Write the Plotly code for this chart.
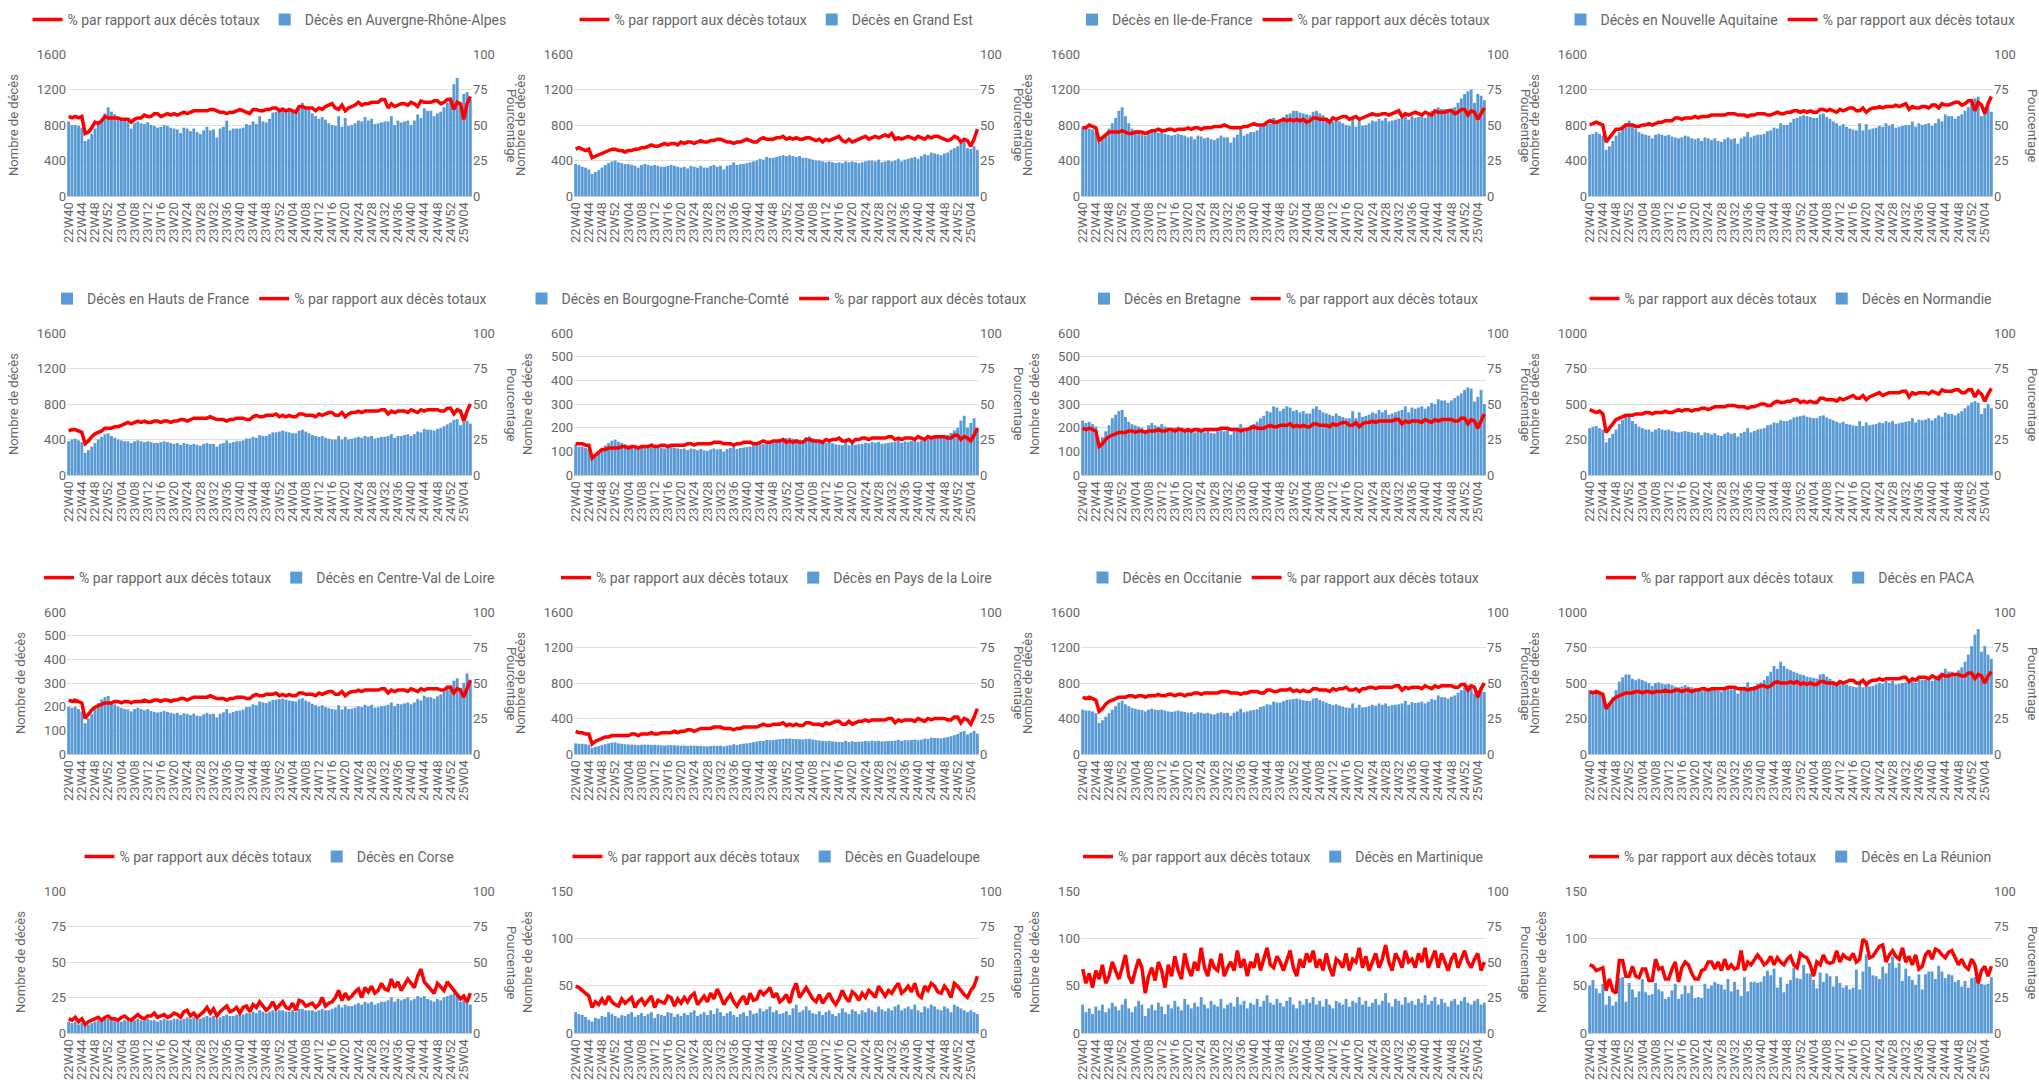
import plotly.graph_objects as go


def vals(s):
    return [int(v) for v in s.split()]


weeks = ([f"22W{w:02d}" for w in range(40, 53)] + [f"23W{w:02d}" for w in range(1, 53)]
         + [f"24W{w:02d}" for w in range(1, 53)] + [f"25W{w:02d}" for w in range(1, 7)])
tick_weeks = weeks[::4]

ara_bar = vals("""840 800 800 790 770 620 640 700 760 800 850 930 1000 950 920 880 860 850 840 760
820 840 820 810 830 800 790 770 780 800 790 770 760 750 710 770 760 730 760 720
700 740 780 740 750 660 760 780 850 740 760 760 760 770 810 800 840 810 900 840
830 870 940 950 990 1000 980 970 960 960 1020 1050 1000 980 930 900 870 890 860 820
800 790 900 780 880 790 800 820 850 840 890 850 870 810 820 830 840 840 900 800
850 830 840 850 800 850 920 880 990 960 960 900 930 950 1000 1050 1110 1260 1330 1000
1150 1170 1090""")
ara_pct = vals("""56 55 56 55 56 44 45 48 52 51 53 56 55 55 55 55 54 54 54 52
54 55 55 57 56 56 58 58 56 57 58 57 58 57 58 59 58 59 60 60
60 60 60 61 61 60 59 59 58 59 59 60 61 60 59 58 61 61 60 60
61 61 62 62 60 61 60 61 60 59 63 63 62 62 62 60 62 61 63 64
65 62 61 64 60 62 63 64 66 64 65 65 66 66 66 68 68 62 65 63
64 65 65 64 66 65 63 67 66 66 66 67 67 65 66 68 68 61 66 65
54 65 70""")

ge_bar = vals("""360 350 330 320 300 250 270 290 320 350 370 390 400 380 370 360 360 350 340 320
350 360 350 340 350 340 330 330 340 350 340 330 320 330 310 340 330 320 340 320
320 340 350 330 340 300 340 350 380 350 360 360 370 380 390 400 420 410 440 430
430 440 450 460 450 460 450 440 450 430 430 420 410 400 400 390 380 390 380 370
380 370 390 380 390 380 370 380 390 400 400 390 410 380 390 400 390 400 420 390
410 420 430 440 420 450 470 460 490 480 470 460 480 490 520 540 560 600 620 540
530 560 520""")
ge_pct = vals("""33 34 33 32 33 27 28 29 30 31 32 33 33 32 32 31 32 32 33 33
34 34 35 36 35 35 36 37 36 37 37 36 38 37 38 38 37 38 39 38
38 39 39 40 40 39 38 38 37 38 38 39 40 39 38 38 40 41 40 40
40 41 41 42 40 41 40 41 40 40 41 41 40 39 40 38 40 39 40 41
42 39 38 40 38 39 40 41 42 40 41 42 41 42 43 42 44 40 41 40
41 42 41 40 42 41 40 42 41 42 42 41 40 39 40 42 41 38 40 39
35 40 47""")

idf_bar = vals("""780 760 760 750 720 600 640 700 760 820 880 960 1000 900 820 760 740 720 700 680
720 740 720 710 730 700 690 680 690 700 690 680 660 670 640 680 670 650 660 640
630 650 680 660 660 600 660 690 750 680 700 720 720 740 780 790 820 810 880 860
860 890 920 930 960 960 940 930 920 910 950 960 930 910 880 860 840 860 840 820
800 790 870 780 850 790 800 820 850 840 870 850 880 840 850 860 870 880 920 860
900 880 890 900 880 910 960 940 1000 980 980 960 990 1000 1050 1100 1150 1180 1200 1050
1150 1130 1080""")
idf_pct = vals("""48 48 50 49 48 39 41 43 45 45 45 45 46 45 44 44 45 45 45 44
45 46 46 47 46 46 47 47 46 47 47 47 48 47 48 48 47 48 48 48
49 49 49 50 49 48 48 48 48 49 49 50 51 50 50 50 52 53 52 52
53 54 53 54 53 54 53 54 52 53 55 55 54 54 54 52 55 54 55 56
56 54 55 56 54 55 56 57 58 57 57 58 58 57 58 59 60 56 58 57
58 59 58 57 59 58 57 60 59 59 59 60 60 58 59 61 61 57 60 59
54 58 62""")

naq_bar = vals("""690 700 720 700 680 520 560 620 680 720 760 820 850 800 760 720 700 690 680 650
690 700 690 680 690 670 660 650 660 680 670 650 640 650 620 660 650 630 650 620
610 640 660 640 650 590 650 670 720 660 680 690 690 700 730 740 770 760 820 800
800 830 870 880 900 910 900 890 880 880 920 930 890 870 840 820 790 810 780 760
750 740 820 740 810 750 760 770 790 780 820 790 810 770 780 790 800 800 840 780
820 800 810 820 790 820 870 840 920 900 900 870 900 920 960 1000 1040 1100 1120 900
1000 1020 950""")
naq_pct = vals("""50 51 52 51 50 38 41 45 47 47 48 50 50 50 49 49 50 50 51 50
51 52 52 53 53 53 55 55 54 55 55 55 56 55 56 56 56 57 57 57
57 57 58 58 58 57 57 57 56 57 57 58 58 58 57 57 58 59 58 58
59 59 60 60 59 60 59 60 59 59 61 61 60 61 60 59 61 60 61 62
62 60 60 62 59 61 62 62 63 62 63 63 63 64 63 64 65 61 63 62
62 63 63 62 64 64 62 65 64 64 65 66 66 64 65 67 67 60 66 64
58 65 70""")

hdf_bar = vals("""380 400 410 390 370 250 280 320 360 400 430 460 470 440 420 400 390 380 380 360
380 390 380 370 380 370 360 360 370 380 370 360 350 360 340 360 350 340 350 340
330 350 360 350 350 320 350 360 390 360 370 380 380 390 410 410 430 420 450 440
440 460 480 480 490 500 490 480 470 470 500 510 490 470 450 440 430 440 420 410
400 400 440 400 430 400 410 420 430 420 440 430 440 410 420 430 430 440 460 420
440 440 450 460 440 460 490 480 520 510 510 500 520 530 550 570 590 620 630 560
600 610 580""")
hdf_pct = vals("""31 32 32 31 30 22 24 27 29 30 31 33 33 33 34 34 35 36 37 36
37 38 37 38 37 37 38 38 37 38 38 37 38 38 39 39 38 39 40 40
40 40 40 41 40 39 39 39 38 39 39 40 40 40 39 39 41 42 41 41
42 42 42 43 41 42 41 42 41 41 43 43 42 42 42 41 43 42 43 44
44 42 42 44 41 43 44 44 45 44 45 45 45 45 45 46 46 43 45 44
45 45 45 44 46 45 44 46 45 46 46 46 46 45 45 47 47 43 46 45
38 45 50""")

bfc_bar = vals("""130 120 120 115 110 70 80 95 110 125 135 145 150 140 135 130 125 120 120 115
120 125 120 118 122 118 115 112 115 118 115 112 110 112 105 112 110 105 110 104
102 108 112 108 110 98 110 114 122 110 114 116 118 120 126 128 134 130 142 138
138 144 150 152 156 158 154 152 150 148 160 164 156 150 144 140 136 140 134 130
128 126 140 126 136 128 130 132 136 134 140 136 140 132 134 136 138 140 146 136
142 140 144 146 140 146 156 152 166 162 162 158 164 170 178 188 200 230 250 200
220 240 200""")
bfc_pct = vals("""22 22 22 21 21 12 14 16 18 18 19 19 19 19 20 20 19 20 20 19
20 20 20 21 20 20 21 21 20 21 21 21 21 21 22 22 21 22 22 22
22 22 23 23 23 22 22 22 21 22 22 23 23 23 22 22 23 24 23 23
24 24 24 25 23 24 23 24 23 23 25 25 24 24 24 23 25 24 25 25
26 24 24 25 23 25 25 26 26 25 26 26 26 26 26 27 27 25 26 25
26 26 26 25 27 26 25 27 26 27 27 27 27 26 26 28 28 25 27 26
24 28 33""")

bre_bar = vals("""230 220 225 215 205 140 160 185 210 240 255 270 275 245 225 215 210 205 200 190
210 220 210 205 215 205 200 195 200 205 200 195 190 195 180 195 190 180 190 178
175 185 195 185 190 170 190 200 215 190 200 210 215 225 240 250 270 265 290 285
270 280 290 285 270 275 265 270 260 260 280 290 275 265 260 255 250 260 250 245
240 240 270 240 265 245 250 255 265 260 275 265 275 255 260 265 270 275 290 265
285 280 285 290 280 290 305 300 320 315 315 305 315 325 335 345 360 370 365 310
330 360 300""")
bre_pct = vals("""33 32 33 32 31 20 22 25 27 28 29 30 30 30 31 31 30 31 31 30
31 31 31 32 31 31 32 32 31 32 32 31 32 31 32 32 31 32 32 32
32 32 33 33 33 32 32 32 31 32 32 33 34 33 33 33 34 35 34 34
35 35 35 36 34 35 34 35 34 34 36 36 35 35 35 34 36 35 36 37
37 35 35 37 34 36 37 37 38 37 38 38 38 38 38 39 39 36 38 37
38 38 38 37 39 38 37 39 38 39 39 39 39 38 38 40 40 36 39 38
33 38 43""")

nor_bar = vals("""330 340 345 330 320 230 260 290 320 360 390 410 420 380 360 340 330 320 320 305
320 330 320 315 320 310 305 300 305 310 305 300 295 300 280 300 295 285 295 280
275 290 300 290 295 270 295 305 330 300 310 320 325 330 350 355 370 365 385 380
380 390 405 410 415 420 410 405 400 400 415 420 405 395 385 375 365 375 360 355
350 345 380 345 370 350 355 360 370 365 380 370 380 360 365 370 375 380 400 370
390 385 390 400 385 400 420 410 440 430 430 420 435 450 470 490 510 520 510 430
470 500 470""")
nor_pct = vals("""46 45 44 45 43 30 33 37 39 40 41 42 42 42 43 43 43 44 44 43
44 44 44 45 44 44 45 46 45 46 46 45 46 46 47 47 46 47 48 48
48 48 49 49 49 48 48 48 47 48 48 49 50 50 49 49 51 52 51 51
52 52 53 53 51 52 51 52 51 51 54 54 53 53 53 52 54 53 54 55
56 54 54 56 53 55 56 57 58 56 57 58 58 58 58 59 59 55 58 57
58 58 58 57 59 58 57 60 59 59 59 60 60 58 58 60 60 55 59 57
52 57 61""")

cvl_bar = vals("""200 195 200 190 180 130 150 170 190 215 230 240 245 220 210 200 195 190 188 180
190 195 190 185 190 182 178 175 178 182 178 174 170 174 165 172 170 164 170 162
160 168 174 168 170 155 170 176 190 172 178 182 184 188 198 200 210 206 222 218
215 222 228 230 232 234 230 226 224 222 232 236 226 220 212 206 200 206 198 194
190 188 206 188 200 190 192 196 202 198 208 202 208 196 198 202 204 208 218 202
212 210 214 218 210 218 232 226 246 240 240 234 244 252 262 276 290 310 320 280
300 340 310""")
cvl_pct = vals("""38 37 38 37 36 25 28 31 33 34 35 36 36 36 37 37 36 37 37 36
37 37 37 38 37 37 38 38 37 38 38 37 38 38 39 39 38 39 40 40
40 40 40 41 40 39 39 39 38 39 39 40 40 40 39 39 41 42 41 41
42 42 42 43 41 42 41 42 41 41 43 43 42 42 42 41 43 42 43 44
44 42 42 44 41 43 44 44 45 44 45 45 45 45 45 46 46 43 45 44
45 45 45 44 46 45 44 46 45 46 46 46 46 45 45 47 47 43 46 45
40 46 52""")

pdl_bar = vals("""120 115 115 110 105 70 80 90 100 110 120 130 130 120 115 110 108 105 104 100
104 106 104 102 104 100 98 96 98 100 98 96 94 96 90 95 94 90 94 88
86 90 94 92 94 86 94 98 110 100 110 116 120 126 134 140 148 146 158 156
156 162 168 170 172 174 170 168 166 164 170 172 164 158 152 148 144 148 142 138
136 134 148 134 144 136 138 140 146 142 150 146 150 142 144 146 148 150 160 148
156 154 158 162 156 162 174 170 184 180 180 176 184 190 200 212 226 250 260 220
240 260 230""")
pdl_pct = vals("""16 15 15 14 14 7 9 10 11 12 12 13 13 13 13 13 13 14 14 13
14 14 14 15 14 14 15 15 15 15 16 15 16 16 17 17 16 17 18 18
18 18 19 19 19 18 18 18 17 18 18 19 19 19 19 19 20 21 20 20
21 21 21 22 20 21 20 21 20 20 22 22 21 21 21 20 22 21 22 23
23 21 21 23 21 22 23 23 24 23 24 24 24 24 24 25 25 22 24 23
24 24 24 23 25 24 23 25 24 25 25 25 25 24 24 26 26 22 25 24
21 26 32""")

occ_bar = vals("""500 490 490 480 460 350 380 420 460 500 540 580 600 560 540 520 510 500 495 480
500 510 500 495 500 490 480 475 480 490 480 475 465 470 450 470 465 455 465 450
445 460 470 460 465 430 465 480 510 470 480 490 495 505 530 540 560 555 590 580
580 595 610 615 620 625 615 605 600 598 625 630 610 595 580 565 550 560 545 535
525 520 570 520 555 525 530 540 555 545 570 555 570 540 550 555 560 570 600 555
585 575 580 590 570 590 620 610 660 640 640 625 645 660 690 720 750 780 790 680
720 760 700""")
occ_pct = vals("""40 39 40 39 38 30 32 35 37 38 39 40 40 40 41 41 40 41 41 40
41 41 41 42 41 41 42 42 41 42 42 41 42 42 43 43 42 43 43 43
43 43 44 44 44 43 43 43 42 43 43 44 44 44 43 43 45 45 44 44
45 45 45 46 44 45 44 45 44 44 46 46 45 45 45 44 46 45 46 46
47 45 45 46 44 46 46 47 47 46 47 47 47 47 47 48 48 45 47 46
47 47 47 46 48 47 46 48 47 48 48 48 48 47 47 49 49 45 48 47
40 46 50""")

paca_bar = vals("""450 440 445 430 410 330 360 400 450 510 540 560 560 530 520 530 520 510 500 480
500 505 495 490 495 485 475 470 475 485 475 470 460 465 445 465 460 450 460 445
440 455 465 455 460 425 460 475 505 470 480 495 505 520 550 580 620 600 650 620
600 590 580 570 560 555 545 540 535 530 560 565 545 530 515 505 495 500 490 480
475 470 510 470 500 475 480 490 500 495 515 500 515 490 495 500 505 515 540 500
525 520 525 535 515 535 560 550 600 580 580 570 590 610 650 700 760 840 880 720
760 700 670""")
paca_pct = vals("""44 43 44 43 42 32 35 38 40 41 42 43 43 43 44 44 43 44 44 43
44 44 44 45 44 44 45 45 44 45 45 44 45 45 46 46 45 46 46 46
46 46 47 47 47 46 46 46 45 46 46 47 48 48 47 48 50 51 50 50
50 51 50 51 49 50 49 50 49 49 51 51 50 50 50 49 51 50 51 52
52 50 50 52 49 51 52 52 53 52 53 53 53 53 53 54 54 51 53 52
54 54 54 53 55 54 53 56 55 55 56 56 56 55 55 57 57 53 56 55
50 55 58""")

cor_bar = vals("""8 7 8 6 7 5 6 7 8 9 9 10 10 9 9 8 8 9 9 8
9 10 9 9 10 9 9 8 9 10 9 9 10 10 9 10 11 10 11 10
10 11 12 11 12 10 11 12 13 12 12 13 13 13 14 14 15 14 16 15
14 15 16 15 16 16 15 15 16 15 17 17 16 16 16 15 16 17 16 16
17 18 20 18 20 19 19 20 21 20 22 21 22 20 21 22 22 23 25 22
24 23 24 25 23 24 26 25 26 24 23 22 24 23 25 26 27 28 26 22
24 22 20""")
cor_pct = vals("""10 9 11 8 10 6 8 9 10 11 9 11 12 10 10 9 11 12 10 9
11 13 11 10 12 12 14 11 12 13 11 12 14 13 11 15 16 12 14 11
13 15 18 14 17 12 15 17 19 15 16 18 14 18 19 15 20 18 22 19
16 18 22 17 20 22 18 17 21 16 23 22 19 20 21 18 20 25 19 21
22 25 30 23 28 24 26 29 31 25 32 29 33 28 30 35 31 30 38 32
36 30 34 38 35 32 40 45 36 33 30 28 35 32 30 36 33 30 28 24
26 22 28""")

gua_bar = vals("""22 20 19 17 14 12 16 15 18 17 22 20 18 16 19 18 20 22 17 19
21 18 20 22 16 20 19 18 22 21 17 20 18 21 19 22 24 18 20 22
19 24 20 26 22 18 21 23 19 17 20 22 18 24 20 21 26 23 25 28
22 24 20 21 23 19 26 30 22 24 28 24 21 20 23 19 22 24 20 18
21 26 22 20 25 23 20 24 22 26 24 22 28 25 23 26 24 28 30 24
26 28 25 30 24 22 28 26 30 28 25 24 28 26 22 30 28 26 24 22
24 22 20""")
gua_pct = vals("""33 32 30 28 26 18 22 20 24 20 26 22 20 19 24 21 23 25 18 22
24 20 23 26 18 23 22 21 26 25 19 24 21 25 22 26 28 20 23 26
22 28 24 31 26 20 24 27 22 19 23 26 20 28 23 24 30 27 29 32
25 28 22 24 27 21 30 35 25 28 32 28 24 22 27 21 25 28 23 20
24 30 25 22 29 27 23 28 25 30 28 25 33 29 26 30 28 32 35 28
30 33 29 35 27 25 33 30 35 33 29 28 33 30 25 35 33 30 27 25
30 33 40""")

mar_bar = vals("""30 22 26 20 28 24 30 22 26 32 28 24 30 36 26 22 28 34 30 18
26 30 24 32 28 20 30 26 34 28 24 36 30 26 32 28 38 30 26 34
30 28 36 26 30 32 28 38 30 34 26 32 30 36 28 34 40 32 30 36
32 28 34 38 30 26 34 30 36 32 38 30 34 28 36 30 26 34 32 30
36 28 34 32 38 30 34 28 32 36 30 34 42 32 28 36 34 30 38 32
34 30 36 32 40 30 34 38 30 36 32 28 34 36 30 34 38 32 30 34
36 30 32""")
mar_pct = vals("""45 35 42 32 44 38 48 35 40 50 44 38 46 55 40 35 44 52 46 28
40 46 37 50 44 32 48 40 54 44 38 56 46 40 50 44 60 46 40 52
46 44 56 40 46 50 44 58 46 52 40 50 46 56 44 52 60 48 46 54
50 44 52 58 46 40 52 46 56 50 58 46 52 44 56 46 40 52 50 46
56 44 52 50 60 46 54 44 50 56 46 52 62 50 44 56 52 46 58 50
52 46 56 50 60 46 52 58 46 56 50 44 52 56 46 52 58 50 46 52
56 44 50""")

reu_bar = vals("""50 56 47 42 52 30 39 29 33 58 59 33 53 46 38 44 57 43 40 41
53 46 44 36 38 45 52 36 41 50 42 50 37 38 37 52 47 50 54 52
51 46 57 44 54 46 39 59 44 54 54 53 54 60 66 61 68 48 59 43
52 56 69 58 57 72 63 63 56 47 64 54 63 60 49 60 53 48 50 46
48 67 46 65 83 70 61 60 57 70 63 74 81 69 74 55 68 60 56 51
62 46 62 65 65 57 71 65 58 62 61 54 56 49 55 48 58 59 59 52
51 52 59""")
reu_pct = vals("""48 47 44 45 46 30 38 30 28 51 51 40 40 47 40 39 45 45 37 37
52 45 46 38 38 45 50 36 46 50 48 42 38 38 44 45 50 50 45 50
44 52 45 48 45 46 58 44 50 48 52 55 52 48 50 54 48 53 50 48
52 54 48 46 56 54 53 48 40 50 48 55 50 49 50 58 50 55 53 52
56 50 52 66 64 53 54 58 61 62 50 55 58 54 52 60 50 54 48 55
45 47 55 58 52 59 58 55 53 57 58 53 48 52 47 45 52 48 35 44
47 40 47""")

# name, bars, percentages, left axis max, left dtick, line listed first in legend
panels = [
    ("Auvergne-Rhône-Alpes", ara_bar, ara_pct, 1600, 400, True),
    ("Grand Est", ge_bar, ge_pct, 1600, 400, True),
    ("Ile-de-France", idf_bar, idf_pct, 1600, 400, False),
    ("Nouvelle Aquitaine", naq_bar, naq_pct, 1600, 400, False),
    ("Hauts de France", hdf_bar, hdf_pct, 1600, 400, False),
    ("Bourgogne-Franche-Comté", bfc_bar, bfc_pct, 600, 100, False),
    ("Bretagne", bre_bar, bre_pct, 600, 100, False),
    ("Normandie", nor_bar, nor_pct, 1000, 250, True),
    ("Centre-Val de Loire", cvl_bar, cvl_pct, 600, 100, True),
    ("Pays de la Loire", pdl_bar, pdl_pct, 1600, 400, True),
    ("Occitanie", occ_bar, occ_pct, 1600, 400, False),
    ("PACA", paca_bar, paca_pct, 1000, 250, True),
    ("Corse", cor_bar, cor_pct, 100, 25, True),
    ("Guadeloupe", gua_bar, gua_pct, 150, 50, True),
    ("Martinique", mar_bar, mar_pct, 150, 50, True),
    ("La Réunion", reu_bar, reu_pct, 150, 50, True),
]

W, H = 2039, 1085
grey = "#666666"
font = dict(family="Roboto, Arial, sans-serif", size=13, color=grey)
fig = go.Figure()
layout = dict(width=W, height=H, margin=dict(l=0, r=0, t=0, b=0, autoexpand=False),
              plot_bgcolor="white", paper_bgcolor="white", font=font,
              bargap=0.12, annotations=[])

for i, (name, bars, pct, ymax, dtick, line_first) in enumerate(panels):
    r, c = divmod(i, 4)
    n = i + 1
    xa = "x" if n == 1 else f"x{n}"
    yl = "y" if n == 1 else f"y{2 * n - 1}"
    yr = f"y{2 * n}"
    lg = "legend" if n == 1 else f"legend{n}"
    x0 = (67 + 507 * c) / W
    x1 = x0 + 405 / W
    top = 54 + 279 * r
    bot = top + 142
    yd = [1 - bot / H, 1 - top / H]

    bar = go.Bar(x=weeks, y=bars, name=f"Décès en {name}", xaxis=xa, yaxis=yl,
                 marker=dict(color="#5B9BD5", line=dict(width=0)), legend=lg)
    line = go.Scatter(x=weeks, y=pct, name="% par rapport aux décès totaux", mode="lines",
                      xaxis=xa, yaxis=yr, line=dict(color="#FF0000", width=3.5), legend=lg)
    for t in ([line, bar] if line_first else [bar, line]):
        fig.add_trace(t)

    layout["xaxis" if n == 1 else f"xaxis{n}"] = dict(
        domain=[x0, x1], anchor=yl, type="category", tickmode="array",
        tickvals=tick_weeks, ticktext=tick_weeks, tickangle=-90, showgrid=False,
        automargin=False, showline=True, linecolor="#cccccc",
        tickfont=dict(size=13, color=grey))
    layout["yaxis" if n == 1 else f"yaxis{2 * n - 1}"] = dict(
        domain=yd, anchor=xa, range=[0, ymax], dtick=dtick, gridcolor="#e0e0e0",
        zeroline=False, automargin=False,
        title=dict(text="Nombre de décès", font=dict(size=13, color=grey)),
        tickfont=dict(size=13, color=grey))
    layout[f"yaxis{2 * n}"] = dict(
        domain=yd, anchor=xa, overlaying=yl, side="right", range=[0, 100], dtick=25,
        showgrid=False, zeroline=False, automargin=False,
        tickfont=dict(size=13, color=grey))
    layout[lg] = dict(orientation="h", x=(x0 + x1) / 2, xanchor="center",
                      y=1 - (top - 34) / H, yanchor="middle", font=dict(size=14, color=grey),
                      bgcolor="rgba(0,0,0,0)")
    layout["annotations"].append(dict(
        text="Pourcentage", textangle=90, xref="paper", yref="paper",
        x=x1 + 40 / W, y=(yd[0] + yd[1]) / 2, xanchor="center", yanchor="middle",
        showarrow=False, font=dict(size=13, color=grey)))

fig.update_layout(**layout)
fig.write_html("out.html", config={"displayModeBar": False},
               post_script="document.body.style.margin='0';")
